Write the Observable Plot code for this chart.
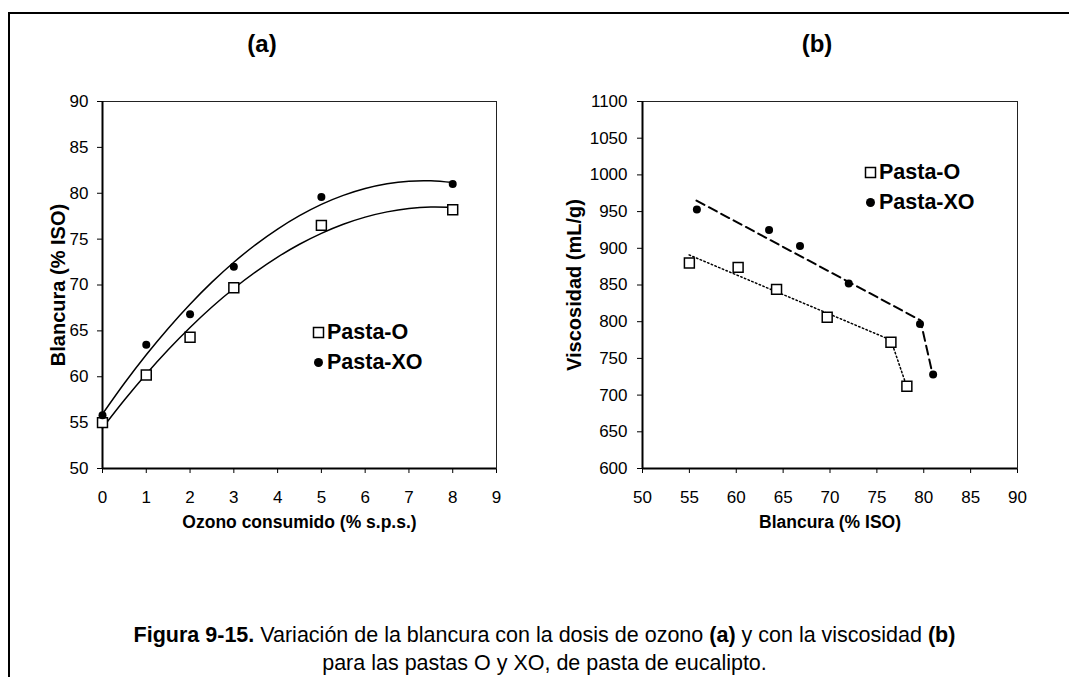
<!DOCTYPE html>
<html>
<head>
<meta charset="utf-8">
<script src="https://cdn.jsdelivr.net/npm/d3@7"></script>
<script src="https://cdn.jsdelivr.net/npm/@observablehq/plot@0.6"></script>
<style>
  html, body { margin: 0; padding: 0; background: #fff; }
  #root { position: relative; width: 1069px; height: 677px; overflow: hidden; font-family: "Liberation Sans", Arial, sans-serif; color: #000; }
  .frame { position: absolute; left: 8px; top: 12px; width: 1200px; height: 800px; border-left: 2px solid #000; border-top: 2px solid #000; }
  .ptitle { position: absolute; width: 100px; text-align: center; font-weight: bold; font-size: 24px; line-height: 26px; }
  .panel { position: absolute; top: 0; }
  .legend { position: absolute; font-weight: bold; font-size: 21.5px; line-height: 30px; }
  .legend .row { display: flex; align-items: center; height: 30px; }
  .legend svg { margin-right: 2px; }
  .caption { position: absolute; left: 0; width: 1089px; top: 621px; text-align: center; font-size: 21.5px; line-height: 28px; }
</style>
</head>
<body>
<div id="root">
  <div class="frame"></div>
  <div class="ptitle" style="left:212px; top:31px;">(a)</div>
  <div class="ptitle" style="left:767px; top:31px;">(b)</div>
  <div id="panelA" class="panel" style="left:0px;"></div>
  <div id="panelB" class="panel" style="left:530px;"></div>
  <div id="legendA" class="legend" style="left:312px; top:317px;"></div>
  <div id="legendB" class="legend" style="left:864px; top:157px;"></div>
  <div class="caption"><b>Figura 9-15.</b> Variación de la blancura con la dosis de ozono <b>(a)</b> y con la viscosidad <b>(b)</b><br>para las pastas O y XO, de pasta de eucalipto.</div>
</div>
<script>
// ---- Data ----
const series = ["Pasta-O", "Pasta-XO"];
const dosis = [0, 1, 2, 3, 5, 8];                       // Ozono consumido (% s.p.s.)
const blancuraO = [55.0, 60.2, 64.3, 69.7, 76.5, 78.2];  // Blancura (% ISO), Pasta-O
const blancuraXO = [55.8, 63.5, 66.8, 72.0, 79.6, 81.0]; // Blancura (% ISO), Pasta-XO
const viscosidadO = [880, 874, 844, 806, 772, 712];      // Viscosidad (mL/g), Pasta-O
const viscosidadXO = [953, 925, 903, 852, 797, 728];     // Viscosidad (mL/g), Pasta-XO

// Trend curves of panel (a)
const curvaDosis = [0, 0.5, 1, 1.5, 2, 2.5, 3, 3.5, 4, 4.5, 5, 5.5, 6, 6.5, 7, 7.5, 8];
const curvaO  = [54.41, 57.46, 60.30, 62.94, 65.37, 67.60, 69.62, 71.43, 73.04, 74.44, 75.63, 76.62, 77.40, 77.97, 78.34, 78.50, 78.46];
const curvaXO = [55.94, 59.29, 62.40, 65.27, 67.91, 70.31, 72.48, 74.41, 76.10, 77.56, 78.79, 79.77, 80.52, 81.04, 81.32, 81.36, 81.16];

// Trend lines of panel (b), read at their vertices
const ajusteBlancuraO  = [54.97, 76.49, 78.18];
const ajusteViscO      = [891, 775, 712];
const ajusteBlancuraXO = [55.76, 79.64, 80.95];
const ajusteViscXO     = [965, 802, 728];

// Tick labels
const ticksDosis = [0, 1, 2, 3, 4, 5, 6, 7, 8, 9];
const ticksBlancuraA = [50, 55, 60, 65, 70, 75, 80, 85, 90];
const ticksBlancuraB = [50, 55, 60, 65, 70, 75, 80, 85, 90];
const ticksVisc = [600, 650, 700, 750, 800, 850, 900, 950, 1000, 1050, 1100];

// Axis titles
const labelXA = "Ozono consumido (% s.p.s.)";
const labelYA = "Blancura (% ISO)";
const labelXB = "Blancura (% ISO)";
const labelYB = "Viscosidad (mL/g)";

// ---- Build tables ----
const ptsA_O  = dosis.map((d, i) => ({x: d, y: blancuraO[i]}));
const ptsA_XO = dosis.map((d, i) => ({x: d, y: blancuraXO[i]}));
const curA_O  = curvaDosis.map((d, i) => ({x: d, y: curvaO[i]}));
const curA_XO = curvaDosis.map((d, i) => ({x: d, y: curvaXO[i]}));
const ptsB_O  = blancuraO.map((b, i) => ({x: b, y: viscosidadO[i]}));
const ptsB_XO = blancuraXO.map((b, i) => ({x: b, y: viscosidadXO[i]}));
const linB_O  = ajusteBlancuraO.map((b, i) => ({x: b, y: ajusteViscO[i]}));
const linB_XO = ajusteBlancuraXO.map((b, i) => ({x: b, y: ajusteViscXO[i]}));

const font = "'Liberation Sans', Arial, sans-serif";
const sq = {symbol: "square", r: 5.6, fill: "white", stroke: "black", strokeWidth: 1.5};
const ci = {symbol: "circle", r: 4, fill: "black", stroke: "none"};
const fmt = d => String(d);

function axes(xt, yt, xlab, ylab, xDom, yDom, padY, offX, offY) {
  return [
    Plot.axisX(xt, {tickSize: 5, tickPadding: 17, fontSize: 17, label: null, tickFormat: fmt}),
    Plot.axisY(yt, {tickSize: 5, tickPadding: padY, fontSize: 17, label: null, tickFormat: fmt}),
    Plot.axisX([], {label: xlab, labelAnchor: "center", labelOffset: offX, labelArrow: "none", fontSize: 17.5, fontWeight: "bold", tickSize: 0}),
    Plot.axisY([], {label: ylab, labelAnchor: "center", labelOffset: offY, labelArrow: "none", fontSize: 20, fontWeight: "bold", tickSize: 0}),
    Plot.frame({stroke: "#222", strokeWidth: 1}),
    Plot.ruleX([xDom[0]], {stroke: "black", strokeWidth: 2}),
    Plot.ruleY([yDom[0]], {stroke: "black", strokeWidth: 2})
  ];
}

const plotA = Plot.plot({
  width: 530, height: 560,
  marginTop: 101, marginBottom: 92, marginLeft: 102, marginRight: 34,
  style: {fontFamily: font, fontSize: "17px", color: "black", background: "transparent", overflow: "visible"},
  x: {domain: [0, 9]},
  y: {domain: [50, 90]},
  marks: [
    ...axes(ticksDosis, ticksBlancuraA, labelXA, labelYA, [0, 9], [50, 90], 9, 59, 52),
    Plot.line(curA_XO, {x: "x", y: "y", curve: "catmull-rom", stroke: "black", strokeWidth: 1.5}),
    Plot.line(curA_O,  {x: "x", y: "y", curve: "catmull-rom", stroke: "black", strokeWidth: 1.5}),
    Plot.dot(ptsA_O,  {x: "x", y: "y", ...sq}),
    Plot.dot(ptsA_XO, {x: "x", y: "y", ...ci})
  ]
});
document.getElementById("panelA").appendChild(plotA);

const plotB = Plot.plot({
  width: 539, height: 560,
  marginTop: 101, marginBottom: 92, marginLeft: 112, marginRight: 52,
  style: {fontFamily: font, fontSize: "17px", color: "black", background: "transparent", overflow: "visible"},
  x: {domain: [50, 90]},
  y: {domain: [600, 1100]},
  marks: [
    ...axes(ticksBlancuraB, ticksVisc, labelXB, labelYB, [50, 90], [600, 1100], 10, 59, 76),
    Plot.line(linB_XO, {x: "x", y: "y", stroke: "black", strokeWidth: 2, strokeDasharray: "9,5"}),
    Plot.line(linB_O,  {x: "x", y: "y", stroke: "black", strokeWidth: 1.5, strokeDasharray: "1.5,2.5"}),
    Plot.dot(ptsB_O,  {x: "x", y: "y", ...sq}),
    Plot.dot(ptsB_XO, {x: "x", y: "y", ...ci})
  ]
});
document.getElementById("panelB").appendChild(plotB);

// ---- Legends ----
function legend(id) {
  const el = document.getElementById(id);
  const sym = [
    '<svg width="13" height="13"><rect x="1.5" y="1.5" width="10" height="10" fill="white" stroke="black" stroke-width="1.5"/></svg>',
    '<svg width="13" height="13"><circle cx="6.5" cy="6.5" r="4.5" fill="black"/></svg>'
  ];
  el.innerHTML = series.map((s, i) => `<div class="row">${sym[i]}<span>${s}</span></div>`).join("");
}
legend("legendA");
legend("legendB");
</script>
</body>
</html>
